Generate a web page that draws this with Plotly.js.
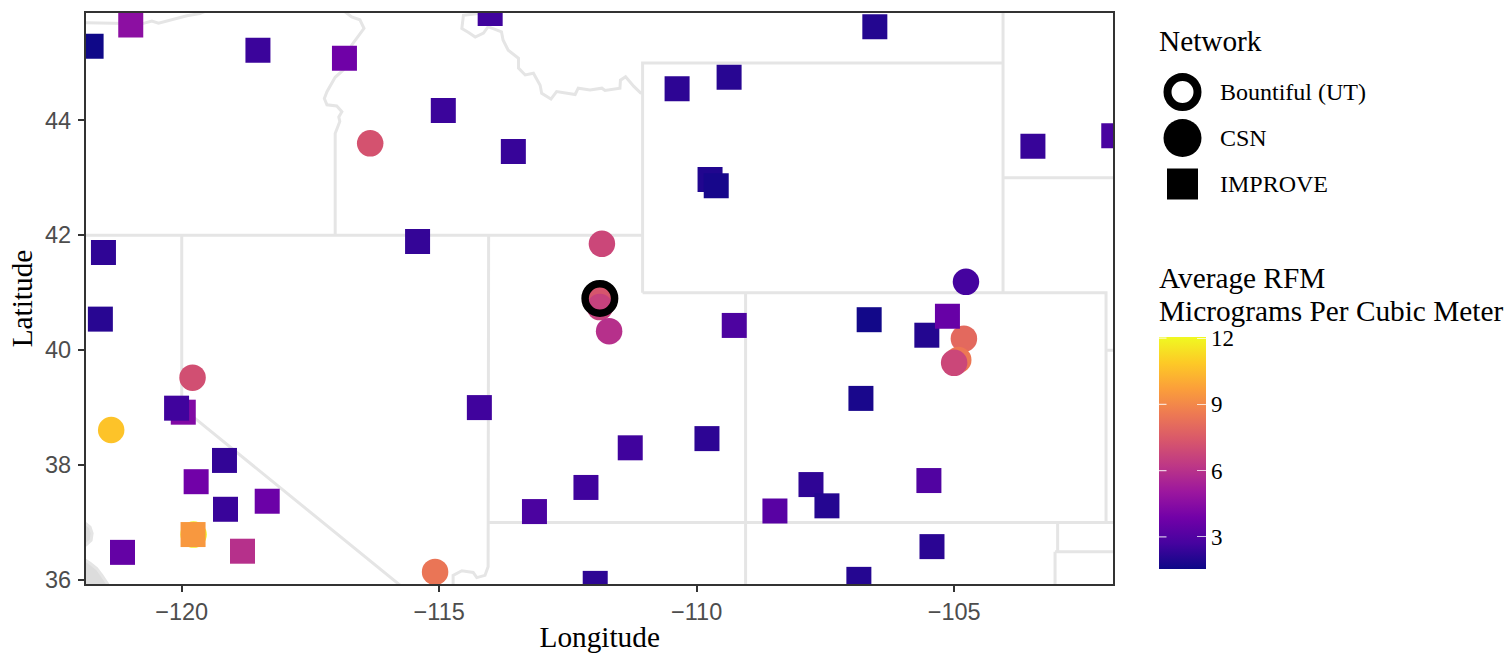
<!DOCTYPE html>
<html>
<head>
<meta charset="utf-8">
<script src="https://cdn.plot.ly/plotly-3.0.1.min.js"></script>
<style>html,body{margin:0;padding:0;background:#fff}#chart{width:1506px;height:653px}</style>
</head>
<body>
<div id="chart"></div>
<script>
const plasma = [[0,'#0d0887'],[0.111,'#46039f'],[0.222,'#7201a8'],[0.333,'#9c179e'],[0.444,'#bd3786'],[0.556,'#d8576b'],[0.667,'#ed7953'],[0.778,'#fb9f3a'],[0.889,'#fdca26'],[1,'#f0f921']];

const csnLon = [-116.34,-111.84,-104.77,-111.88,-111.88,-111.70,-104.81,-104.92,-105.00,-119.79,-121.37,-119.77,-115.08];
const csnLat = [43.60,41.85,41.19,40.90,40.75,40.33,40.20,39.83,39.78,39.52,38.61,36.79,36.14];
const csnRfm = [7.2,6.8,2.7,7.3,6.6,5.95,8.0,8.5,6.8,7.1,10.7,11.9,8.4];

const bountifulLon = [-111.88];
const bountifulLat = [40.90];

const improveLon = [-121.76,-120.99,-118.52,-116.84,-114.01,-106.54,-110.38,-109.37,-114.92,-113.56,-103.47,-101.90,-109.74,-109.62,-115.42,-121.52,-121.58,-106.65,-109.27,-105.53,-105.13,-119.97,-120.10,-114.22,-106.81,-109.80,-111.29,-119.17,-119.72,-105.49,-107.78,-112.15,-113.15,-108.48,-107.47,-118.34,-119.15,-119.78,-121.15,-118.82,-105.43,-111.97,-106.85];
const improveLat = [45.29,45.66,45.22,45.08,45.86,45.63,44.55,44.75,44.17,43.46,43.55,43.73,42.97,42.86,41.89,41.70,40.54,40.53,40.43,40.26,40.59,38.92,38.99,39.00,39.16,38.46,38.30,38.08,37.71,37.73,37.66,37.61,37.19,37.20,37.29,37.37,37.23,36.79,36.48,36.50,36.58,35.94,36.01];
const improveRfm = [1.6,4.6,2.5,3.8,2.6,2.0,2.2,2.1,2.5,2.4,2.4,2.8,1.95,1.75,2.35,2.25,2.1,1.65,2.9,2.0,3.6,4.3,2.6,2.6,1.8,2.2,2.6,2.3,3.85,3.0,2.25,2.6,2.85,3.2,2.05,3.7,2.45,9.5,3.5,5.95,2.15,2.2,2.05];

const borderLon = [
 -122,-111.05,null,
 -120,-120,-115.2,null,
 -114.04,-114.05,-114.05,-114.11,-114.27,-114.34,-114.56,-114.73,-114.73,null,
 -114.05,-101,null,
 -109.05,-109.05,null,
 -111.05,-111.05,-104.05,null,
 -111.05,-102.05,-102.05,null,
 -104.05,-104.05,null,
 -104.05,-101,null,
 -102.05,-101,null,
 -102.99,-102.99,null,
 -103.04,-103.04,null,
 -103.04,-101,null,
 -122,-121.55,-121.33,-120.78,-120.58,-120.45,-120.16,-119.90,-119.65,-119.40,null,
 -116.83,-116.70,-116.54,-116.46,-116.70,-116.86,-117.02,-117.18,-117.23,-117.18,-116.99,-116.89,-116.95,-116.93,-117.02,-117.02,null,
 -114.24,-114.53,-114.54,-114.56,-114.43,-114.30,-114.14,-114.05,-113.79,-113.76,-113.66,-113.46,-113.46,-113.33,-113.17,-113.04,-113.01,-112.83,-112.72,-112.36,-112.30,-112.07,-111.84,-111.78,-111.49,-111.48,-111.38,-111.22,-111.09,-111.05
];
const borderLat = [
 42,42,null,
 42,39,35.5,null,
 42,36.69,36.23,36.08,36.04,36.13,36.16,36.08,35.8,null,
 37,37,null,
 41,35.8,null,
 41,45,45,null,
 41,41,37,null,
 41,46.2,null,
 43,43,null,
 40,40,null,
 37,36.49,null,
 36.49,35.8,null,
 36.49,36.49,null,
 45.70,45.70,45.69,45.68,45.73,45.69,45.76,45.82,45.86,45.95,null,
 45.89,45.80,45.75,45.60,45.31,44.88,44.75,44.50,44.38,44.27,44.25,44.15,44.06,43.98,43.77,42,null,
 45.86,45.83,45.75,45.60,45.53,45.45,45.52,45.63,45.54,45.40,45.22,45.08,44.91,44.79,44.82,44.61,44.47,44.37,44.50,44.45,44.56,44.53,44.56,44.52,44.56,44.70,44.76,44.59,44.48,44.47
];

const coastLon = [-122.1,-121.86,-121.78,-121.74,-121.76,-121.86,-122.1,null,-122.1,-121.86,-121.78,-121.65,-121.55,-121.43,-121.38,-122.1];
const coastLat = [36.98,36.98,36.92,36.81,36.69,36.61,36.61,null,36.34,36.34,36.29,36.20,36.08,35.93,35.85,35.85];

const legendNames = ['Bountiful (UT)','CSN','IMPROVE'];
const legendSpots = [2.5,1.5,0.5];
const lonTicks = [-120,-115,-110,-105];
const latTicks = [36,38,40,42,44];
const rfmTicks = [3,6,9,12];
const rfmMin = 1.55, rfmMax = 12.05;

const W = 1506, H = 653;
const px = v => v / W, py = v => (H - v) / H;
const serif = '"Liberation Serif", serif';
const sans = '"Liberation Sans", sans-serif';
const cbTop = 337, cbBottom = 569;
const rfmY = v => py(cbBottom - (v - rfmMin) / (rfmMax - rfmMin) * (cbBottom - cbTop));

const traces = [
 {type:'scatter',mode:'lines',x:coastLon,y:coastLat,fill:'toself',fillcolor:'#dcdcdc',line:{color:'#e5e5e5',width:3},hoverinfo:'skip'},
 {type:'scatter',mode:'lines',x:borderLon,y:borderLat,line:{color:'#e5e5e5',width:3},connectgaps:false,hoverinfo:'skip'},
 {type:'scatter',mode:'markers',name:'CSN',x:csnLon,y:csnLat,marker:{symbol:'circle',size:26.5,color:csnRfm,coloraxis:'coloraxis',line:{width:0}}},
 {type:'scatter',mode:'markers',name:'Bountiful (UT)',x:bountifulLon,y:bountifulLat,marker:{symbol:'circle-open',size:29.5,color:'#000',line:{color:'#000',width:7.5}}},
 {type:'scatter',mode:'markers',name:'IMPROVE',x:improveLon,y:improveLat,marker:{symbol:'square',size:25,color:improveRfm,coloraxis:'coloraxis',line:{width:0}}},
 {type:'scatter',mode:'markers',xaxis:'x2',yaxis:'y2',x:[0.5],y:[legendSpots[0]],marker:{symbol:'circle-open',size:30,color:'#000',line:{color:'#000',width:8}},hoverinfo:'skip'},
 {type:'scatter',mode:'markers',xaxis:'x2',yaxis:'y2',x:[0.5],y:[legendSpots[1]],marker:{symbol:'circle',size:38,color:'#000',line:{width:0}},hoverinfo:'skip'},
 {type:'scatter',mode:'markers',xaxis:'x2',yaxis:'y2',x:[0.5],y:[legendSpots[2]],marker:{symbol:'square',size:31,color:'#000',line:{width:0}},hoverinfo:'skip'}
];

const note = (text,x,y,size) => ({text,xref:'paper',yref:'paper',x:px(x-2),y:py(y),xanchor:'left',yanchor:'middle',showarrow:false,font:{family:serif,size,color:'#000'},align:'left'});
const tickMark = v => ({text:'\u00a0',xref:'paper',yref:'paper',x:px(1159),y:rfmY(v),xanchor:'center',yanchor:'middle',showarrow:true,arrowhead:0,arrowwidth:1.2,arrowcolor:'rgba(255,255,255,0.75)',ax:9,ay:0,axref:'pixel',ayref:'pixel',standoff:0,startstandoff:0,font:{size:1}});

const layout = {
 width:W,height:H,showlegend:false,paper_bgcolor:'#fff',plot_bgcolor:'#fff',
 margin:{l:0,r:0,t:0,b:0,pad:0},
 xaxis:{domain:[px(86),px(1113.4)],range:[-121.859,-101.907],tickvals:lonTicks,ticks:'outside',ticklen:6,tickwidth:2.2,tickcolor:'#333',
   showgrid:false,zeroline:false,showline:true,mirror:true,linecolor:'#333',linewidth:2.2,anchor:'y',
   tickfont:{family:sans,size:23.5,color:'#4d4d4d'},title:{text:'Longitude',font:{family:serif,size:29.3,color:'#000'},standoff:18}},
 yaxis:{domain:[py(583.9),py(13.1)],range:[35.931,45.867],tickvals:latTicks,ticks:'outside',ticklen:6,tickwidth:2.2,tickcolor:'#333',ticklabelstandoff:2,
   showgrid:false,zeroline:false,showline:true,mirror:true,linecolor:'#333',linewidth:2.2,anchor:'x',
   tickfont:{family:sans,size:23.5,color:'#4d4d4d'},title:{text:'Latitude',font:{family:serif,size:29.3,color:'#000'},standoff:4}},
 xaxis2:{domain:[px(1159),px(1206)],range:[0,1],visible:false,anchor:'y2',fixedrange:true},
 yaxis2:{domain:[py(207),py(69)],range:[0,3],visible:false,anchor:'x2',fixedrange:true},
 coloraxis:{colorscale:plasma,cmin:rfmMin,cmax:rfmMax,colorbar:{
   x:px(1159),xanchor:'left',xpad:0,y:py(cbBottom),yanchor:'bottom',ypad:0,
   thickness:47,thicknessmode:'pixels',len:cbBottom-cbTop,lenmode:'pixels',
   tickvals:rfmTicks,ticks:'inside',ticklen:9,tickwidth:1.2,tickcolor:'rgba(255,255,255,0.75)',tickprefix:'\u2002',
   tickfont:{family:serif,size:23,color:'#000'},outlinewidth:0,borderwidth:0,title:{text:''}}},
 annotations:[
   note('Network',1159,41,29.3),
   note(legendNames[0],1220,92,24),
   note(legendNames[1],1220,138,24),
   note(legendNames[2],1220,184,24),
   note('Average RFM',1159,278,29.3),
   note('Micrograms Per Cubic Meter',1159,311,29.3)
 ].concat(rfmTicks.map(tickMark))
};
Plotly.newPlot('chart',traces,layout,{displayModeBar:false,responsive:false});
</script>
</body>
</html>
